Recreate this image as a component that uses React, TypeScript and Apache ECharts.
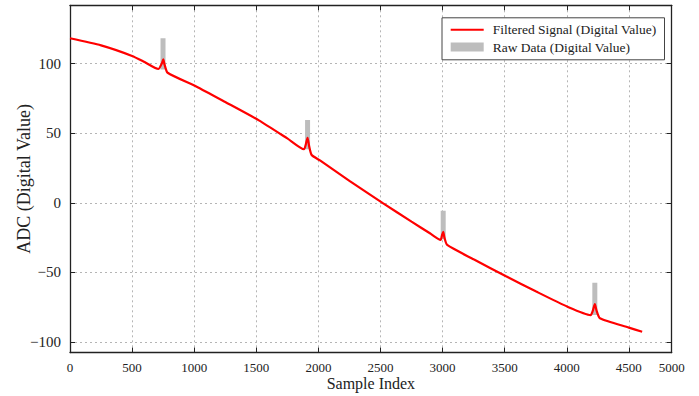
import React, { useEffect, useRef } from 'react';
import * as echarts from 'echarts';

// Filtered signal
const sampleIndex = [
  0, 250, 500, 604, 711, 740, 751, 762, 786, 1020, 1250, 1521, 1750, 1884, 1900, 1913, 1925, 1946,
  2013, 2250, 2522, 2750, 2898, 2984, 2995, 3005, 3015, 3037, 3250, 3507, 3750, 4006, 4192, 4210,
  4226, 4240, 4267, 4500, 4607,
];
const filteredValue = [
  118.3, 113.2, 105.6, 101.0, 96.2, 100.3, 103.2, 99.2, 93.5, 83.5, 72.5, 59.3, 46.3, 38.5, 42.5, 46.8, 41.0, 34.4,
  30.5, 15.8, -0.4, -13.5, -21.9, -26.7, -23.5, -20.8, -25.0, -30.3, -40.6, -52.6, -63.6, -74.7, -80.7, -77.5,
  -72.8, -77.5, -83.0, -89.7, -92.7,
];

// Raw data spikes (raw value jumps above the filtered level)
const spikeIndex = [749, 1913, 3005, 4226];
const rawSpikeBase = [95.8, 38.5, -26.2, -80.7];
const rawSpikeTop = [118.3, 59.5, -5.7, -57.4];

const xTickLabels = ['0', '500', '1000', '1500', '2000', '2500', '3000', '3500', '4000', '4500', '5000'];

const seriesNames = ['Filtered Signal (Digital Value)', 'Raw Data (Digital Value)'];

const X_MIN = 0;
const X_MAX = 4845;
const Y_MIN = -107.6;
const Y_MAX = 142;

const RED = '#ff0000';
const GRAY = '#bdbdbd';
const FONT = '"Liberation Serif", "Times New Roman", serif';

export default function App() {
  const ref = useRef<HTMLDivElement>(null);

  useEffect(() => {
    if (!ref.current) return;
    const chart = echarts.init(ref.current, undefined, { renderer: 'svg' });

    const filtered = sampleIndex.map((x, i) => [x, filteredValue[i]]);
    const raw: any[] = [];
    spikeIndex.forEach((x, i) => {
      raw.push([x, rawSpikeBase[i]]);
      raw.push([x, rawSpikeTop[i]]);
      raw.push([x, '-']);
    });

    const frameLine = { show: true, onZero: false, lineStyle: { color: '#222', width: 1.3 } };
    const tick = { show: true, inside: true, length: 5, lineStyle: { color: '#222', width: 1 } };
    const grid = { show: true, lineStyle: { color: '#b5b5b5', width: 1, type: [2, 3] } };
    const legendText = { fontFamily: FONT, fontSize: 13.5, color: '#222', lineHeight: 13, padding: [0, 0, 0, 4] };

    chart.setOption({
      animation: false,
      backgroundColor: '#ffffff',
      grid: { left: 70, right: 27.3, top: 5.3, bottom: 43.5, containLabel: false, outerBoundsMode: 'none' },
      graphic: [
        {
          type: 'rect',
          left: 441.5,
          top: 17.3,
          shape: { width: 222.5, height: 42 },
          style: { fill: '#ffffff', stroke: '#444', lineWidth: 1 },
          z: 50,
        },
      ],
      legend: [
        {
          left: 450.7,
          top: 22.8,
          padding: 0,
          itemWidth: 33,
          itemHeight: 2,
          z: 60,
          textStyle: legendText,
          data: [{ name: seriesNames[0], icon: 'rect', itemStyle: { color: RED } }],
        },
        {
          left: 450.7,
          top: 40,
          padding: 0,
          itemWidth: 33,
          itemHeight: 9,
          z: 60,
          textStyle: legendText,
          data: [{ name: seriesNames[1], icon: 'rect', itemStyle: { color: GRAY } }],
        },
      ],
      xAxis: [
        {
          type: 'value',
          min: X_MIN,
          max: X_MAX,
          minInterval: 500,
          maxInterval: 500,
          position: 'bottom',
          name: 'Sample Index',
          nameLocation: 'middle',
          nameGap: 23,
          nameMoveOverlap: false,
          nameTextStyle: { fontFamily: FONT, fontSize: 16, color: '#222' },
          axisLine: frameLine,
          axisTick: tick,
          splitLine: grid,
          axisLabel: {
            fontFamily: FONT,
            fontSize: 13,
            color: '#222',
            margin: 8,
            showMinLabel: true,
            showMaxLabel: true,
            formatter: (_v: number, i: number) => xTickLabels[i] ?? '',
          },
        },
        {
          type: 'value',
          min: X_MIN,
          max: X_MAX,
          minInterval: 500,
          maxInterval: 500,
          position: 'top',
          axisLine: frameLine,
          axisTick: tick,
          splitLine: { show: false },
          axisLabel: { show: false },
        },
      ],
      yAxis: [
        {
          type: 'value',
          min: Y_MIN,
          max: Y_MAX,
          minInterval: 50,
          maxInterval: 50,
          position: 'left',
          name: 'ADC (Digital Value)',
          nameLocation: 'middle',
          nameGap: 37,
          nameMoveOverlap: false,
          nameTextStyle: { fontFamily: FONT, fontSize: 18, color: '#222' },
          axisLine: frameLine,
          axisTick: tick,
          splitLine: grid,
          axisLabel: {
            fontFamily: FONT,
            fontSize: 15,
            color: '#222',
            margin: 9,
            showMinLabel: false,
            showMaxLabel: false,
            formatter: (v: number) => (v < 0 ? '\u2212' + Math.abs(v) : String(v)),
          },
        },
        {
          type: 'value',
          min: Y_MIN,
          max: Y_MAX,
          minInterval: 50,
          maxInterval: 50,
          position: 'right',
          axisLine: frameLine,
          axisTick: tick,
          splitLine: { show: false },
          axisLabel: { show: false },
        },
      ],
      series: [
        {
          name: seriesNames[1],
          type: 'line',
          data: raw,
          showSymbol: false,
          symbol: 'none',
          connectNulls: false,
          lineStyle: { color: GRAY, width: 5, cap: 'butt' },
          itemStyle: { color: GRAY },
          z: 2,
        },
        {
          name: seriesNames[0],
          type: 'line',
          data: filtered,
          showSymbol: false,
          symbol: 'none',
          smooth: 0.2,
          lineStyle: { color: RED, width: 2.2 },
          itemStyle: { color: RED },
          z: 3,
        },
      ],
    });

    return () => chart.dispose();
  }, []);

  return (
    <div
      ref={ref}
      style={{ position: 'absolute', left: 0, top: 0, width: 699, height: 396, background: '#fff' }}
    />
  );
}
